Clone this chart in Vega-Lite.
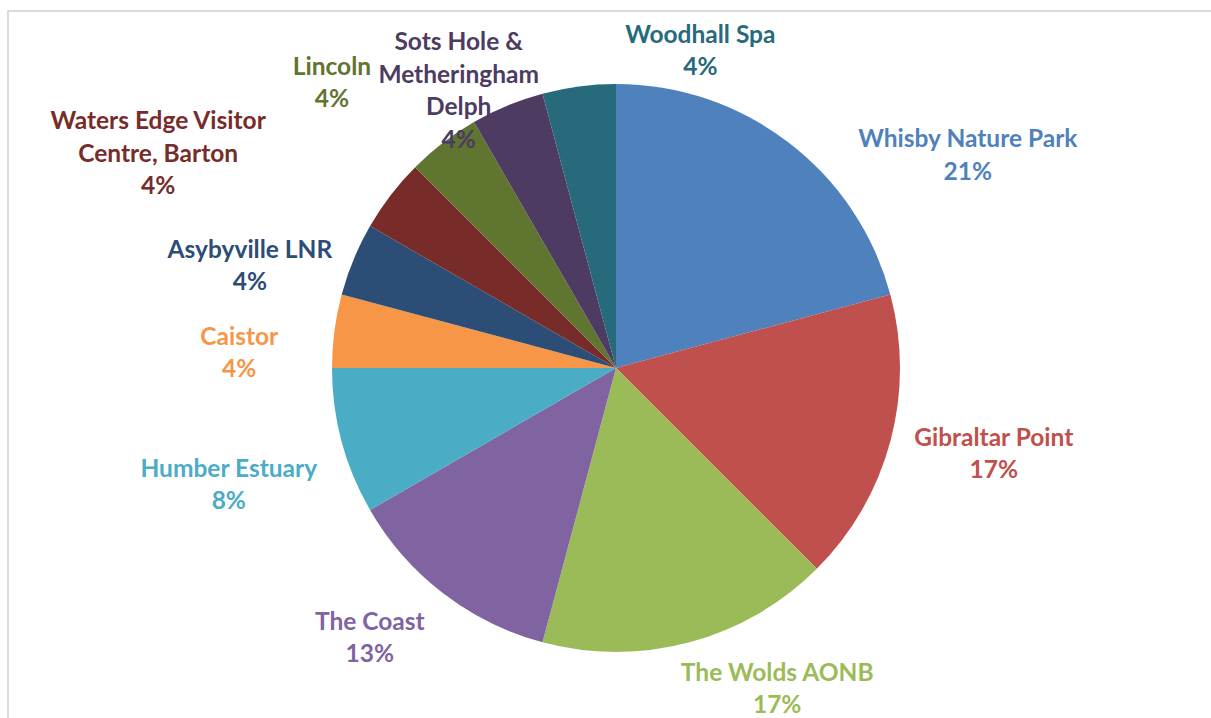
{
  "$schema": "https://vega.github.io/schema/vega-lite/v6.json",
  "width": 1216,
  "height": 714,
  "autosize": {"type": "none"},
  "padding": {"left": 8, "top": 11, "right": 0, "bottom": 0},
  "background": "white",
  "view": {"stroke": "#d0d0d0", "strokeWidth": 1.5, "fill": "white"},
  "config": {
    "view": {"stroke": "#d0d0d0", "strokeWidth": 1.5},
    "text": {"font": "Lato", "fontWeight": "bold", "fontSize": 24.5, "lineHeight": 32.5, "align": "center", "baseline": "middle", "lineBreak": "\n"}
  },
  "data": {
    "values": [
      {"site": "Whisby Nature Park", "count": 5, "rank": 1, "label": "Whisby Nature Park\n21%"},
      {"site": "Gibraltar Point", "count": 4, "rank": 2, "label": "Gibraltar Point\n17%"},
      {"site": "The Wolds AONB", "count": 4, "rank": 3, "label": "The Wolds AONB\n17%"},
      {"site": "The Coast", "count": 3, "rank": 4, "label": "The Coast\n13%"},
      {"site": "Humber Estuary", "count": 2, "rank": 5, "label": "Humber Estuary\n8%"},
      {"site": "Caistor", "count": 1, "rank": 6, "label": "Caistor\n4%"},
      {"site": "Asybyville LNR", "count": 1, "rank": 7, "label": "Asybyville LNR\n4%"},
      {"site": "Waters Edge Visitor Centre, Barton", "count": 1, "rank": 8, "label": "Waters Edge Visitor\nCentre, Barton\n4%"},
      {"site": "Lincoln", "count": 1, "rank": 9, "label": "Lincoln\n4%"},
      {"site": "Sots Hole & Metheringham Delph", "count": 1, "rank": 10, "label": "Sots Hole &\nMetheringham\nDelph\n4%"},
      {"site": "Woodhall Spa", "count": 1, "rank": 11, "label": "Woodhall Spa\n4%"}
    ]
  },
  "encoding": {
    "theta": {"field": "count", "type": "quantitative", "stack": true},
    "order": {"field": "rank", "type": "quantitative"},
    "color": {
      "field": "site",
      "type": "nominal",
      "legend": null,
      "scale": {
        "domain": ["Whisby Nature Park", "Gibraltar Point", "The Wolds AONB", "The Coast", "Humber Estuary", "Caistor", "Asybyville LNR", "Waters Edge Visitor Centre, Barton", "Lincoln", "Sots Hole & Metheringham Delph", "Woodhall Spa"],
        "range": ["#4F81BD", "#C0504D", "#9BBB59", "#8064A2", "#4BACC6", "#F79646", "#2C4D75", "#772C2A", "#5F7530", "#4D3B62", "#276A7C"]
      }
    }
  },
  "layer": [
    {"mark": {"type": "arc", "outerRadius": 284}},
    {"mark": {"type": "text", "radius": 412, "dx": 101, "dy": 99},
     "encoding": {"text": {"condition": {"test": "datum.site === 'Whisby Nature Park'", "field": "label", "type": "nominal"}, "value": ""}}},
    {"mark": {"type": "text", "radius": 389, "dx": 2, "dy": -30},
     "encoding": {"text": {"condition": {"test": "datum.site === 'Gibraltar Point'", "field": "label", "type": "nominal"}, "value": ""}}},
    {"mark": {"type": "text", "radius": 360, "dx": 68, "dy": -42},
     "encoding": {"text": {"condition": {"test": "datum.site === 'The Wolds AONB'", "field": "label", "type": "nominal"}, "value": ""}}},
    {"mark": {"type": "text", "radius": 365, "dx": -24, "dy": -35},
     "encoding": {"text": {"condition": {"test": "datum.site === 'The Coast'", "field": "label", "type": "nominal"}, "value": ""}}},
    {"mark": {"type": "text", "radius": 404, "dx": 3, "dy": -3},
     "encoding": {"text": {"condition": {"test": "datum.site === 'Humber Estuary'", "field": "label", "type": "nominal"}, "value": ""}}},
    {"mark": {"type": "text", "radius": 376, "dx": -4, "dy": 19},
     "encoding": {"text": {"condition": {"test": "datum.site === 'Caistor'", "field": "label", "type": "nominal"}, "value": ""}}},
    {"mark": {"type": "text", "radius": 379, "dx": -16, "dy": 28},
     "encoding": {"text": {"condition": {"test": "datum.site === 'Asybyville LNR'", "field": "label", "type": "nominal"}, "value": ""}}},
    {"mark": {"type": "text", "radius": 504, "dx": -58, "dy": 61},
     "encoding": {"text": {"condition": {"test": "datum.site === 'Waters Edge Visitor Centre, Barton'", "field": "label", "type": "nominal"}, "value": ""}}},
    {"mark": {"type": "text", "radius": 401, "dx": -40, "dy": 18},
     "encoding": {"text": {"condition": {"test": "datum.site === 'Lincoln'", "field": "label", "type": "nominal"}, "value": ""}}},
    {"mark": {"type": "text", "radius": 317, "dx": -36, "dy": -32},
     "encoding": {"text": {"condition": {"test": "datum.site === 'Sots Hole & Metheringham Delph'", "field": "label", "type": "nominal"}, "value": ""}}},
    {"mark": {"type": "text", "radius": 327, "dx": 127, "dy": -8},
     "encoding": {"text": {"condition": {"test": "datum.site === 'Woodhall Spa'", "field": "label", "type": "nominal"}, "value": ""}}}
  ]
}
